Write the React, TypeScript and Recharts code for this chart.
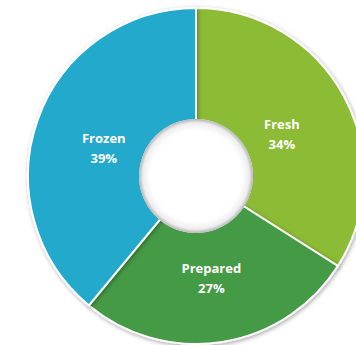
import { PieChart, Pie, Cell } from 'recharts';

const categories = ['Fresh', 'Prepared', 'Frozen'];
const shares = [34, 27, 39];
const colors = ['#8cbb35', '#459a45', '#21a9cc'];

const data = categories.map((name, i) => ({ name, value: shares[i] }));
const hole = [{ name: 'hole', value: 1 }];

const RADIAN = Math.PI / 180;

const renderLabel = (props: any) => {
  const { cx, cy, midAngle, index } = props;
  const r = 98;
  const x = cx + r * Math.cos(-midAngle * RADIAN);
  const y = cy + r * Math.sin(-midAngle * RADIAN);
  return (
    <text
      x={x}
      y={y}
      fill="#fff"
      textAnchor="middle"
      fontFamily="'Open Sans', sans-serif"
      fontWeight="bold"
      fontSize={13}
    >
      <tspan x={x} dy={0}>{data[index].name}</tspan>
      <tspan x={x} dy={20}>{shares[index]}%</tspan>
    </text>
  );
};

const App = () => {
  return (
    <div style={{ position: 'absolute', left: 0, top: 0, width: 356, height: 345, overflow: 'hidden' }}>
      <PieChart width={356} height={345} margin={{ top: 0, right: 0, bottom: 0, left: 0 }}>
        <defs>
          <filter id="shadow" x="-20%" y="-20%" width="140%" height="140%">
            <feDropShadow dx="1" dy="1.5" stdDeviation="2" floodColor="#000" floodOpacity="0.35" />
          </filter>
          <radialGradient id="holeGrad">
            <stop offset="0.8" stopColor="#ffffff" />
            <stop offset="0.93" stopColor="#eeeeee" />
            <stop offset="1" stopColor="#b5b5b5" />
          </radialGradient>
        </defs>
        <Pie
          data={data}
          dataKey="value"
          cx={196}
          cy={176}
          innerRadius={56}
          outerRadius={168}
          startAngle={90}
          endAngle={-270}
          stroke="#fff"
          strokeWidth={2}
          label={renderLabel}
          labelLine={false}
          isAnimationActive={false}
          style={{ filter: 'url(#shadow)' }}
        >
          {data.map((d, i) => (
            <Cell key={d.name} fill={colors[i]} />
          ))}
        </Pie>
        <Pie
          data={hole}
          dataKey="value"
          cx={196}
          cy={176}
          innerRadius={0}
          outerRadius={57}
          stroke="none"
          fill="url(#holeGrad)"
          isAnimationActive={false}
        />
      </PieChart>
    </div>
  );
};

export default App;
